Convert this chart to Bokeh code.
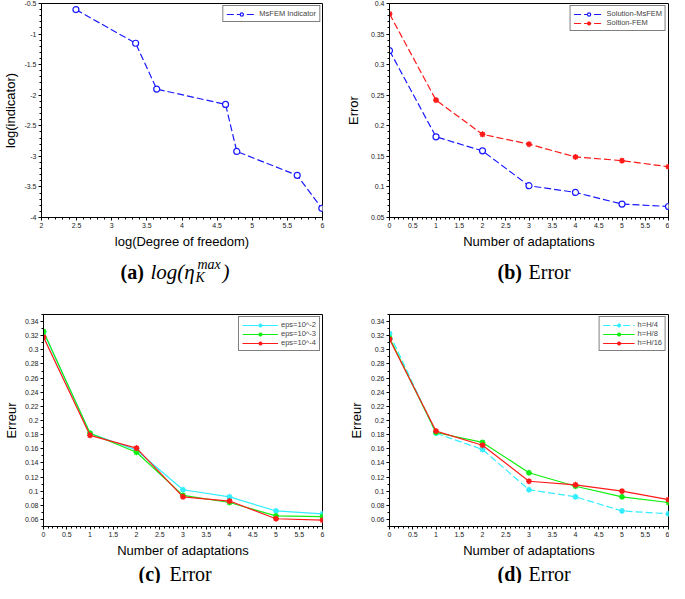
from bokeh.plotting import figure
from bokeh.layouts import column, row
from bokeh.models import (Range1d, FixedTicker, CustomJSTickFormatter,
                          Legend, LegendItem)
from bokeh.core.properties import value
from bokeh.embed import file_html
from bokeh.resources import INLINE

# ---------------- data ----------------
# (a) log(indicator) vs log(DOF)
a_x = [2.49, 3.34, 3.64, 4.62, 4.78, 5.64, 5.99]
a_y = [-0.60, -1.15, -1.90, -2.15, -2.92, -3.31, -3.85]
a_name = "MsFEM Indicator"

# (b) Error vs number of adaptations
adapt = [0, 1, 2, 3, 4, 5, 6]
b_msfem = [0.323, 0.182, 0.159, 0.102, 0.091, 0.072, 0.068]
b_fem = [0.383, 0.242, 0.186, 0.170, 0.149, 0.143, 0.133]
b_names = ["Solution-MsFEM", "Soltion-FEM"]

# (c) eps study
c_eps2 = [0.325, 0.182, 0.158, 0.102, 0.092, 0.072, 0.068]
c_eps3 = [0.326, 0.182, 0.155, 0.094, 0.084, 0.065, 0.064]
c_eps4 = [0.318, 0.179, 0.161, 0.092, 0.086, 0.061, 0.059]
c_names = ["eps=10^-2", "eps=10^-3", "eps=10^-4"]

# (d) h study
d_h4 = [0.323, 0.182, 0.159, 0.102, 0.092, 0.072, 0.068]
d_h8 = [0.317, 0.183, 0.169, 0.126, 0.107, 0.092, 0.084]
d_h16 = [0.315, 0.185, 0.165, 0.114, 0.109, 0.100, 0.088]
d_names = ["h=H/4", "h=H/8", "h=H/16"]

# ticks
a_xticks = [2, 2.5, 3, 3.5, 4, 4.5, 5, 5.5, 6]
a_yticks = [-4, -3.5, -3, -2.5, -2, -1.5, -1, -0.5]
n_xticks = [0, 0.5, 1, 1.5, 2, 2.5, 3, 3.5, 4, 4.5, 5, 5.5, 6]
b_yticks = [0.05, 0.1, 0.15, 0.2, 0.25, 0.3, 0.35, 0.4]
c_yticks = [0.06, 0.08, 0.1, 0.12, 0.14, 0.16, 0.18, 0.2, 0.22, 0.24, 0.26,
            0.28, 0.3, 0.32, 0.34]

BLUE = "#1a1aff"
RED = "#ff1a1a"
CYAN = "#33eeff"
GREEN = "#11ee11"
SERIF = "Liberation Serif"


def minor(lo, hi, step):
    n = int(round((hi - lo) / step))
    return [round(lo + i * step, 4) for i in range(n + 1)]


def make_fig(w, h, bl, br, bt, bb, xr, yr, xt, xm, yt, ym, xlabel, ylabel,
             ystand=3):
    p = figure(width=w, height=h, x_range=Range1d(*xr), y_range=Range1d(*yr),
               output_backend="svg", toolbar_location=None,
               min_border_left=bl, min_border_right=br,
               min_border_top=bt, min_border_bottom=bb)
    p.grid.visible = False
    p.outline_line_color = "black"
    p.outline_line_alpha = 1
    p.outline_line_width = 1
    fmt = CustomJSTickFormatter(code="return String(Number(tick.toFixed(4)));")
    for ax, ticks, mt, lab, st in ((p.xaxis[0], xt, xm, xlabel, 3),
                                   (p.yaxis[0], yt, ym, ylabel, ystand)):
        ax.ticker = FixedTicker(ticks=ticks, minor_ticks=mt)
        ax.formatter = fmt
        ax.axis_label = lab
        ax.axis_label_text_font = "Liberation Sans"
        ax.axis_label_text_font_size = "13px"
        ax.axis_label_text_font_style = "normal"
        ax.axis_label_text_color = "black"
        ax.axis_label_standoff = st
        ax.major_label_text_font = "Liberation Sans"
        ax.major_label_text_font_size = "7px"
        ax.major_label_text_color = "#222222"
        ax.major_label_standoff = 2
        ax.major_tick_in = 0
        ax.major_tick_out = 3
        ax.minor_tick_in = 0
        ax.minor_tick_out = 2
        ax.axis_line_color = "black"
        ax.major_tick_line_color = "black"
        ax.minor_tick_line_color = "black"
    return p


def add_legend(p, items, glyph_width):
    leg = Legend(items=items, location="top_right", margin=2,
                 label_text_font="Liberation Sans", label_text_font_size="7.5px",
                 label_height=8, glyph_height=8, glyph_width=glyph_width,
                 label_standoff=3, spacing=0, padding=3,
                 border_line_color="black", border_line_width=1,
                 background_fill_alpha=1)
    p.add_layout(leg)


def star_series(p, x, y, color, dash):
    ln = p.line(x, y, line_color=color, line_width=1.2, line_dash=dash)
    s1 = p.scatter(x, y, marker="circle", size=4, fill_color=color,
                   line_color=color)
    s2 = p.scatter(x, y, marker="asterisk", size=6, line_color=color,
                   line_width=1.3)
    return [ln, s1, s2]


def caption_fig(w, h, pieces):
    c = figure(width=w, height=h, x_range=Range1d(0, w), y_range=Range1d(0, h),
               output_backend="svg", toolbar_location=None,
               min_border=0, x_axis_type=None, y_axis_type=None)
    c.grid.visible = False
    c.outline_line_color = None
    for (tx, ty, t, size, style) in pieces:
        c.text(x=[tx], y=[ty], text=[t], text_font=value(SERIF),
               text_font_size=value(size), text_font_style=value(style),
               text_color="black", text_align="left",
               text_baseline="middle")
    return c


W_L, W_R = 332, 337
H1, HC1 = 251, 40
H2, HC2 = 269, 23

# ---------------- (a) ----------------
pa = make_fig(W_L, H1, 32, 10, 3, 34, (2, 6), (-4, -0.5),
              a_xticks, minor(2, 6, 0.1), a_yticks, minor(-4, -0.5, 0.1),
              "log(Degree of freedom)", "log(indicator)")
la = pa.line(a_x, a_y, line_color=BLUE, line_width=1.2, line_dash="7 3")
sa = pa.scatter(a_x, a_y, marker="circle", size=6, fill_color="white",
                line_color=BLUE, line_width=1.2)
add_legend(pa, [LegendItem(label=a_name, renderers=[la, sa])], 30)
cap_a = caption_fig(W_L, HC1, [
    (120, 20, "(a)", "20px", "bold"),
    (150, 20, "log(η", "21px", "italic"),
    (195, 14, "K", "14px", "italic"),
    (197, 27, "max", "14px", "italic"),
    (222, 20, ")", "21px", "italic"),
])

# ---------------- (b) ----------------
pb = make_fig(W_R, H1, 57, 1, 3, 34, (0, 6), (0.05, 0.4),
              n_xticks, minor(0, 6, 0.1), b_yticks, minor(0.05, 0.4, 0.01),
              "Number of adaptations", "Error", ystand=7)
lb1 = pb.line(adapt, b_msfem, line_color=BLUE, line_width=1.2, line_dash="7 3")
sb1 = pb.scatter(adapt, b_msfem, marker="circle", size=6, fill_color="white",
                 line_color=BLUE, line_width=1.2)
rb2 = star_series(pb, adapt, b_fem, RED, "7 3")
add_legend(pb, [LegendItem(label=b_names[0], renderers=[lb1, sb1]),
                LegendItem(label=b_names[1], renderers=rb2)], 30)
cap_b = caption_fig(W_R, HC1, [
    (165, 20, "(b)", "20px", "bold"),
    (196, 20, "Error", "20px", "normal"),
])

# ---------------- (c) ----------------
pc = make_fig(W_L, H2, 32, 10, 23, 34, (0, 6), (0.05, 0.35),
              n_xticks, minor(0, 6, 0.1), c_yticks, minor(0.05, 0.35, 0.01),
              "Number of adaptations", "Erreur")
rc1 = star_series(pc, adapt, c_eps2, CYAN, "solid")
rc2 = star_series(pc, adapt, c_eps3, GREEN, "solid")
rc3 = star_series(pc, adapt, c_eps4, RED, "solid")
add_legend(pc, [LegendItem(label=c_names[0], renderers=rc1),
                LegendItem(label=c_names[1], renderers=rc2),
                LegendItem(label=c_names[2], renderers=rc3)], 36)
cap_c = caption_fig(W_L, HC2, [
    (138, 10, "(c)", "20px", "bold"),
    (169, 10, "Error", "20px", "normal"),
])

# ---------------- (d) ----------------
pd_ = make_fig(W_R, H2, 57, 1, 23, 34, (0, 6), (0.05, 0.35),
               n_xticks, minor(0, 6, 0.1), c_yticks, minor(0.05, 0.35, 0.01),
               "Number of adaptations", "Erreur", ystand=4)
rd1 = star_series(pd_, adapt, d_h4, CYAN, "7 3")
rd2 = star_series(pd_, adapt, d_h8, GREEN, "solid")
rd3 = star_series(pd_, adapt, d_h16, RED, "solid")
add_legend(pd_, [LegendItem(label=d_names[0], renderers=rd1),
                 LegendItem(label=d_names[1], renderers=rd2),
                 LegendItem(label=d_names[2], renderers=rd3)], 32)
cap_d = caption_fig(W_R, HC2, [
    (165, 10, "(d)", "20px", "bold"),
    (196, 10, "Error", "20px", "normal"),
])

layout = column(
    row(pa, pb, spacing=0),
    row(cap_a, cap_b, spacing=0),
    row(pc, pd_, spacing=0),
    row(cap_c, cap_d, spacing=0),
    spacing=0,
)

open("out.html", "w").write(file_html(layout, INLINE))
